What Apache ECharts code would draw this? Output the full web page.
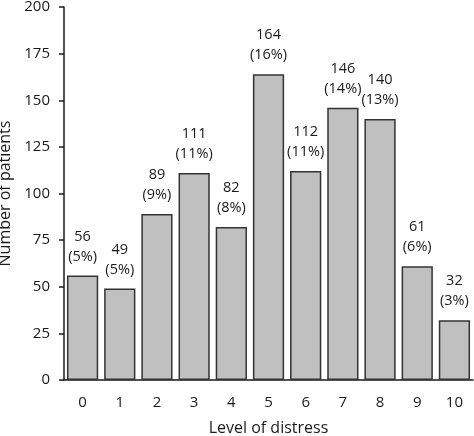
<!DOCTYPE html>
<html>
<head>
<meta charset="utf-8">
<script src="https://cdn.jsdelivr.net/npm/echarts@6/dist/echarts.min.js"></script>
<style>
  html, body { margin: 0; padding: 0; background: #fff; }
  #chart { width: 474px; height: 436px; }
</style>
</head>
<body>
<div id="chart"></div>
<script>
var levels = ['0', '1', '2', '3', '4', '5', '6', '7', '8', '9', '10'];
var patients = [56, 49, 89, 111, 82, 164, 112, 146, 140, 61, 32];
var percents = ['5%', '5%', '9%', '11%', '8%', '16%', '11%', '14%', '13%', '6%', '3%'];

var font = '"Open Sans", sans-serif';
var ink = '#1a1a1a';
var chart = echarts.init(document.getElementById('chart'));

var option = {
    animation: false,
    grid: { left: 64, right: 1, top: 7, bottom: 56, outerBoundsMode: 'none' },
    xAxis: {
        type: 'category',
        data: levels,
        name: 'Level of distress',
        nameLocation: 'middle',
        nameGap: 40,
        nameTextStyle: { fontFamily: font, fontSize: 16, color: ink },
        axisLine: { lineStyle: { color: ink, width: 1.5 } },
        axisTick: { alignWithLabel: true, length: 4, lineStyle: { color: ink, width: 1.5 } },
        axisLabel: { fontFamily: font, fontSize: 15, color: ink, margin: 15 }
    },
    yAxis: {
        type: 'value',
        min: 0,
        max: 200,
        interval: 25,
        name: 'Number of patients',
        nameLocation: 'middle',
        nameGap: 46,
        nameTextStyle: { fontFamily: font, fontSize: 16, color: ink },
        splitLine: { show: false },
        axisLine: { show: true, lineStyle: { color: ink, width: 1.5 } },
        axisTick: { show: true, length: 5, lineStyle: { color: ink, width: 1.5 } },
        axisLabel: { fontFamily: font, fontSize: 15, color: ink, margin: 14 }
    },
    series: [{
        type: 'bar',
        data: patients,
        barCategoryGap: '16%',
        itemStyle: { color: '#c0c0c0', borderColor: '#333', borderWidth: 1.5 },
        label: {
            show: true,
            position: 'top',
            distance: 9,
            fontFamily: font,
            fontSize: 14.5,
            lineHeight: 20,
            color: ink,
            formatter: function(p) {
                return p.value + '\n(' + percents[p.dataIndex] + ')';
            }
        }
    }]
};

chart.setOption(option);
</script>
</body>
</html>
